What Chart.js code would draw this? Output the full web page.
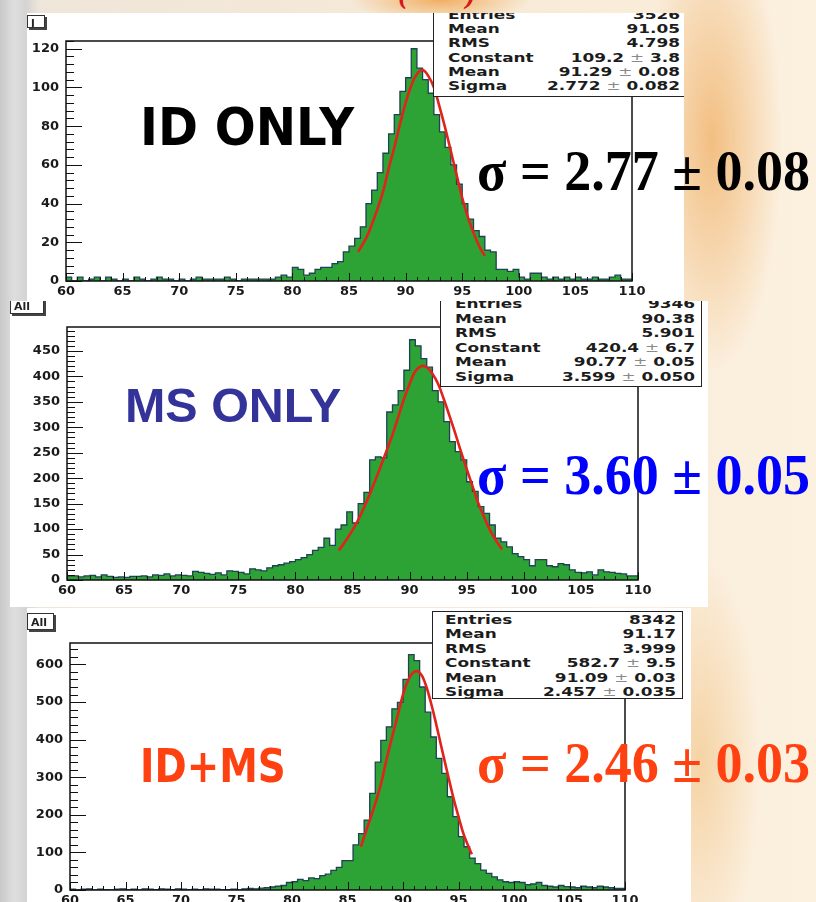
<!DOCTYPE html>
<html>
<head>
<meta charset="utf-8">
<title>ID only / MS only / ID+MS</title>
<script src="https://cdn.jsdelivr.net/npm/chart.js@4.4.1/dist/chart.umd.min.js"></script>
<style>
  html, body { margin: 0; padding: 0; }
  #page {
    position: relative; width: 816px; height: 902px; overflow: hidden;
    background:
      radial-gradient(ellipse 70px 230px at 712px 140px, rgba(238,165,80,0.65), rgba(238,165,80,0) 100%),
      radial-gradient(ellipse 90px 22px at 440px 0px, rgba(240,160,70,0.8), rgba(240,160,70,0) 100%),
      radial-gradient(ellipse 60px 200px at 700px 760px, rgba(240,185,110,0.5), rgba(240,185,110,0) 100%),
      linear-gradient(to right, #c9c9c9 0px, #dedede 14px, #d4d4d4 26px, #efe6da 40px, #f7ead6 60%, #fcf0df 100%);
  }
  .panel { position: absolute; background: #fff; overflow: hidden; }
  .panel canvas { position: absolute; left: 0; top: 0; }
  .stats {
    position: absolute; background: #fff; border: 1.5px solid #222;
    box-sizing: border-box; overflow: hidden;
  }
  .stats .inner {
    position: absolute; left: 0; top: 0; transform-origin: 0 0;
    font: bold 13px "DejaVu Sans", sans-serif; color: #1c1c1c;
  }
  .stats .row { display: flex; justify-content: space-between; white-space: nowrap; }
  .stats .pm { color: #8a8a8a; font-weight: normal; }
  .tbox {
    position: absolute; background: #fff; border: 1px solid #333;
    box-shadow: 2px 2px 0 #444; font: bold 11px "DejaVu Sans", sans-serif;
    color: #222; box-sizing: border-box; padding: 1px 3px; overflow: hidden;
  }
  .big { position: absolute; white-space: nowrap; transform-origin: 0 0; line-height: 1; }
  .comic { font-family: "DejaVu Sans", sans-serif; font-weight: bold; }
  .serif { font-family: "Liberation Serif", "DejaVu Serif", serif; font-weight: bold; }
  .sans { font-family: "Liberation Sans", Arial, sans-serif; font-weight: bold; }
</style>
</head>
<body>
<div id="page">
  <div class="big serif" style="left:398px;top:-22px;font-size:30px;color:#d81818;font-style:italic">(</div>
  <div class="big serif" style="left:466px;top:-22px;font-size:30px;color:#d81818;font-style:italic">)</div>

  <div class="panel" id="p1" style="left:27px;top:13px;width:657px;height:288px">
    <canvas id="c1" width="657" height="288"></canvas>
    <div class="tbox" style="left:0;top:2px;width:18px;height:13px">l</div>
  </div>
  <div class="panel" id="p2" style="left:10px;top:301px;width:698px;height:306px">
    <canvas id="c2" width="698" height="306"></canvas>
    <div class="tbox" style="left:0;top:-7px;width:34px;height:20px;padding-top:5px">All</div>
  </div>
  <div class="panel" id="p3" style="left:27px;top:608px;width:664px;height:302px">
    <canvas id="c3" width="664" height="302"></canvas>
    <div class="tbox" style="left:0;top:5px;width:27px;height:17px;padding-top:2px">All</div>
  </div>

  <div class="big comic" id="t1" data-w="214" style="left:140px;top:101px;font-size:52px;color:#000">ID ONLY</div>
  <div class="big serif" id="s1" data-w="333" style="left:477px;top:143px;font-size:56px;color:#000">σ = 2.77 ± 0.08</div>
  <div class="big sans" id="t2" data-w="216" style="left:125px;top:382px;font-size:48px;color:#33339a">MS ONLY</div>
  <div class="big serif" id="s2" data-w="333" style="left:477px;top:447px;font-size:56px;color:#0000ff">σ = 3.60 ± 0.05</div>
  <div class="big comic" id="t3" data-w="146" style="left:140px;top:743px;font-size:46px;color:#ff4010">ID+MS</div>
  <div class="big serif" id="s3" data-w="333" style="left:477px;top:735px;font-size:56px;color:#ff4010">σ = 2.46 ± 0.03</div>
</div>

<script>
// ---- data: 100 bins of 0.5 from 60 to 110 ----
const BIN_LOW = 60;
const BIN_WIDTH = 0.5;
const X_TICKS = [60, 65, 70, 75, 80, 85, 90, 95, 100, 105, 110];

// ID only
const ID_COUNTS = [
  3, 2, 0, 2, 0, 1, 2, 0, 2, 1,
  0, 1, 0, 2, 1, 0, 1, 2, 1, 1,
  0, 1, 0, 1, 2, 1, 1, 1, 1, 2,
  1, 0, 1, 1, 1, 1, 1, 1, 2, 3,
  2, 7, 6, 3, 4, 6, 7, 7, 9, 10,
  15, 18, 22, 28, 40, 47, 56, 66, 76, 86,
  98, 105, 120, 110, 104, 97, 86, 77, 69, 60,
  50, 40, 32, 26, 23, 16, 15, 6, 6, 5,
  6, 2, 1, 4, 4, 2, 1, 2, 1, 2,
  1, 2, 1, 1, 2, 1, 1, 2, 3, 1,
];
const ID_FIT_X = [85.8, 86.5, 87, 87.5, 88, 88.5, 89, 89.5, 90, 90.5, 91, 91.5, 92, 92.5, 93, 93.5, 94, 94.5, 95, 95.5, 96, 96.5, 97];
const ID_FIT_Y = [15, 22, 29, 37, 46, 58, 69, 81, 92, 101, 107, 109, 106, 100, 90, 79, 67, 55, 43, 33, 25, 18, 13];
const ID_Y_TICKS = [0, 20, 40, 60, 80, 100, 120];
const ID_STATS = [
  ["Entries", "3526"], ["Mean", "91.05"], ["RMS", "4.798"],
  ["Constant", "109.2 ± 3.8"], ["Mean", "91.29 ± 0.08"], ["Sigma", "2.772 ± 0.082"],
];

// MS only
const MS_COUNTS = [
  12, 8, 8, 6, 8, 9, 6, 10, 7, 5,
  6, 5, 7, 7, 8, 6, 10, 9, 12, 8,
  10, 9, 8, 17, 15, 13, 11, 14, 10, 18,
  17, 15, 12, 22, 20, 18, 24, 28, 30, 33,
  36, 40, 44, 50, 58, 64, 82, 68, 100, 108,
  134, 112, 150, 172, 236, 242, 240, 330, 344, 372,
  412, 472, 460, 435, 418, 372, 350, 311, 272, 252,
  236, 193, 174, 144, 131, 108, 82, 75, 65, 52,
  46, 40, 28, 40, 40, 28, 26, 32, 30, 20,
  15, 14, 16, 10, 20, 16, 15, 13, 12, 8,
];
const MS_FIT_X = [83.8, 84.5, 85, 85.5, 86, 86.5, 87, 87.5, 88, 88.5, 89, 89.5, 90, 90.5, 91, 91.5, 92, 92.5, 93, 93.5, 94, 94.5, 95, 95.5, 96, 96.5, 97, 97.5, 98.1];
const MS_FIT_Y = [58, 80, 98, 118, 142, 168, 196, 225, 255, 285, 320, 355, 385, 410, 420, 418, 405, 385, 355, 322, 288, 252, 218, 185, 152, 125, 100, 80, 60];
const MS_Y_TICKS = [0, 50, 100, 150, 200, 250, 300, 350, 400, 450];
const MS_STATS = [
  ["Entries", "9346"], ["Mean", "90.38"], ["RMS", "5.901"],
  ["Constant", "420.4 ± 6.7"], ["Mean", "90.77 ± 0.05"], ["Sigma", "3.599 ± 0.050"],
];

// ID+MS
const IDMS_COUNTS = [
  4, 2, 0, 2, 3, 0, 2, 1, 0, 2,
  3, 1, 2, 0, 3, 2, 1, 3, 2, 1,
  3, 2, 1, 2, 1, 3, 2, 2, 1, 1,
  2, 0, 3, 4, 3, 5, 6, 8, 10, 12,
  20, 22, 28, 25, 32, 30, 38, 42, 52, 60,
  78, 78, 120, 150, 186, 257, 340, 398, 434, 482,
  499, 560, 626, 610, 540, 473, 407, 350, 310, 248,
  195, 142, 115, 85, 70, 53, 44, 35, 27, 22,
  20, 22, 20, 14, 16, 20, 12, 10, 8, 12,
  9, 8, 6, 10, 8, 6, 10, 8, 6, 4,
];
const IDMS_FIT_X = [86.2, 87, 87.5, 88, 88.5, 89, 89.5, 90, 90.5, 91, 91.5, 92, 92.5, 93, 93.5, 94, 94.5, 95, 95.5, 96.2];
const IDMS_FIT_Y = [115, 185, 230, 280, 345, 405, 462, 520, 560, 580, 578, 550, 500, 440, 375, 312, 250, 195, 145, 95];
const IDMS_Y_TICKS = [0, 100, 200, 300, 400, 500, 600];
const IDMS_STATS = [
  ["Entries", "8342"], ["Mean", "91.17"], ["RMS", "3.999"],
  ["Constant", "582.7 ± 9.5"], ["Mean", "91.09 ± 0.03"], ["Sigma", "2.457 ± 0.035"],
];

// ---- drawing ----
const Y_AXIS_W = 38;
const X_AXIS_H = 18;
const TICK_FONT = { family: "DejaVu Sans", weight: "bold", size: 13 };

// ROOT-like frame with inward tick marks
const rootFrame = {
  id: "rootFrame",
  afterDatasetsDraw(chart, args, opts) {
    const { ctx, chartArea: a, scales: { x, y } } = chart;
    ctx.save();
    ctx.strokeStyle = "#111";
    ctx.lineWidth = 1;
    for (let v = x.min; v <= x.max; v += 1) {
      const px = Math.round(x.getPixelForValue(v)) + 0.5;
      const len = X_TICKS.includes(v) ? 8 : 4;
      ctx.beginPath(); ctx.moveTo(px, a.bottom); ctx.lineTo(px, a.bottom - len); ctx.stroke();
    }
    for (let v = 0; v <= y.max; v += opts.minor) {
      const py = Math.round(y.getPixelForValue(v)) + 0.5;
      const len = opts.ticks.includes(v) ? 16 : 8;
      ctx.beginPath(); ctx.moveTo(a.left, py); ctx.lineTo(a.left + len, py); ctx.stroke();
    }
    ctx.lineWidth = 1.5;
    ctx.strokeRect(a.left, a.top, a.right - a.left, a.bottom - a.top);
    ctx.restore();
  },
};

function makeHist(id, counts, fitX, fitY, yMax, yTicks, yMinor, area) {
  const canvas = document.getElementById(id);
  const W = canvas.width, H = canvas.height;
  const histPts = counts.map((c, i) => ({ x: BIN_LOW + i * BIN_WIDTH, y: c }));
  histPts.push({ x: BIN_LOW + counts.length * BIN_WIDTH, y: counts[counts.length - 1] });
  const fitPts = fitX.map((x, i) => ({ x, y: fitY[i] }));

  return new Chart(canvas, {
    type: "line",
    data: {
      datasets: [
        { data: fitPts, borderColor: "#e0231b", borderWidth: 2.6, pointRadius: 0,
          tension: 0.4, fill: false, order: 0 },
        { data: histPts, stepped: "after", fill: "origin", backgroundColor: "#2da235",
          borderColor: "#1f4256", borderWidth: 1.3, pointRadius: 0, order: 1 },
      ],
    },
    options: {
      responsive: false,
      animation: false,
      events: [],
      layout: {
        padding: { left: area.left - Y_AXIS_W, right: W - area.right, top: area.top, bottom: H - area.bottom - X_AXIS_H },
      },
      plugins: {
        legend: { display: false },
        tooltip: { enabled: false },
        rootFrame: { ticks: yTicks, minor: yMinor },
      },
      scales: {
        x: {
          type: "linear", min: 60, max: 110,
          afterFit: (s) => { s.height = X_AXIS_H; },
          afterBuildTicks: (s) => { s.ticks = X_TICKS.map((v) => ({ value: v })); },
          grid: { display: false, drawTicks: false },
          border: { display: false },
          ticks: { autoSkip: false, maxRotation: 0, padding: 3, color: "#1a1a1a", font: TICK_FONT },
        },
        y: {
          type: "linear", min: 0, max: yMax,
          afterFit: (s) => { s.width = Y_AXIS_W; },
          afterBuildTicks: (s) => { s.ticks = yTicks.map((v) => ({ value: v })); },
          grid: { display: false, drawTicks: false },
          border: { display: false },
          ticks: { autoSkip: false, padding: 7, color: "#1a1a1a", font: TICK_FONT },
        },
      },
    },
    plugins: [rootFrame],
  });
}

function buildStats(panelId, rows, box) {
  const el = document.createElement("div");
  el.className = "stats";
  Object.assign(el.style, { left: box.left + "px", top: box.top + "px", width: box.width + "px", height: box.height + "px" });
  const inner = document.createElement("div");
  inner.className = "inner";
  inner.style.width = (box.width - box.padL - box.padR) / box.sx + "px";
  inner.style.transform = `translate(${box.padL}px, ${box.padT}px) scaleX(${box.sx})`;
  rows.forEach(([label, value]) => {
    const r = document.createElement("div");
    r.className = "row";
    r.style.height = r.style.lineHeight = box.rowH + "px";
    const v = value.replace("±", '<span class="pm">±</span>');
    r.innerHTML = `<span>${label}</span><span>${v}</span>`;
    inner.appendChild(r);
  });
  el.appendChild(inner);
  document.getElementById(panelId).appendChild(el);
}

makeHist("c1", ID_COUNTS, ID_FIT_X, ID_FIT_Y, 124, ID_Y_TICKS, 4, { left: 39, right: 605, top: 28, bottom: 268 });
makeHist("c2", MS_COUNTS, MS_FIT_X, MS_FIT_Y, 497, MS_Y_TICKS, 10, { left: 57, right: 628, top: 26, bottom: 279 });
makeHist("c3", IDMS_COUNTS, IDMS_FIT_X, IDMS_FIT_Y, 657, IDMS_Y_TICKS, 20, { left: 43, right: 598, top: 35, bottom: 282 });

buildStats("p1", ID_STATS, { left: 406, top: -6, width: 252, height: 90, padL: 14, padR: 6, padT: 0, rowH: 14.2, sx: 1.3 });
buildStats("p2", MS_STATS, { left: 430, top: -5, width: 262, height: 91, padL: 14, padR: 8, padT: 0, rowH: 14.6, sx: 1.3 });
buildStats("p3", IDMS_STATS, { left: 405, top: 3, width: 251, height: 88, padL: 12, padR: 8, padT: 1, rowH: 14.4, sx: 1.3 });

// squeeze the overlay labels to the widths they have on the slide
document.querySelectorAll(".big[data-w]").forEach((el) => {
  const k = Number(el.dataset.w) / el.offsetWidth;
  el.style.transform = `scaleX(${k})`;
});
</script>
</body>
</html>
